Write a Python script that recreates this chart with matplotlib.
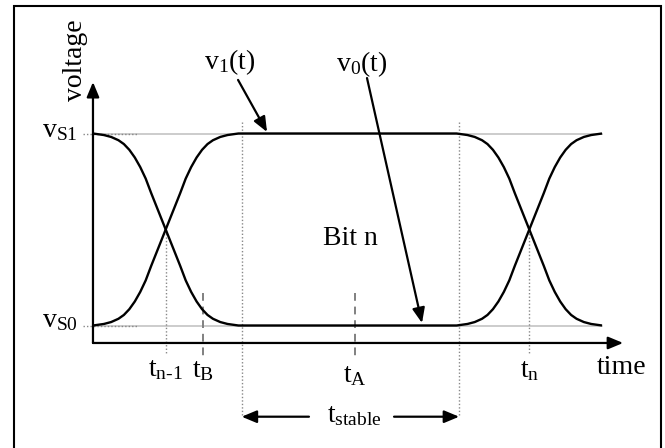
import numpy as np
import matplotlib
matplotlib.use('Agg')
import matplotlib.pyplot as plt

plt.rcParams['font.family'] = 'Liberation Serif'
plt.rcParams['mathtext.fontset'] = 'custom'
plt.rcParams['mathtext.rm'] = 'Liberation Serif'
plt.rcParams['mathtext.it'] = 'Liberation Serif:italic'
plt.rcParams['mathtext.bf'] = 'Liberation Serif:bold'

# one transition (time in bit periods, voltage 0=vS0, 1=vS1)
edge_dt = np.array([-0.20, -0.17, -0.15, -0.13, -0.115, -0.10, -0.085, -0.07, -0.055, -0.04, -0.02,
                    0.0, 0.02, 0.04, 0.055, 0.07, 0.085, 0.10, 0.115, 0.13, 0.15, 0.17, 0.20])
edge_rise = np.array([0.0, 0.008, 0.018, 0.035, 0.055, 0.085, 0.125, 0.175, 0.235, 0.31, 0.405,
                      0.50, 0.595, 0.69, 0.765, 0.825, 0.875, 0.915, 0.945, 0.965, 0.982, 0.992, 1.0])

# bit boundaries and sampling instants
t_prev, t_next = 0.0, 1.0
t_B, t_A = 0.102, 0.521
stable_start, stable_end = 0.209, 0.807
t_start, t_end = -0.2, 1.2
v_S0, v_S1 = 0.0, 1.0

v1_t = np.concatenate([t_prev + edge_dt, t_next + edge_dt])
v1_v = np.concatenate([edge_rise, edge_rise[::-1]])
v0_v = np.concatenate([edge_rise[::-1], edge_rise])

# pixel geometry of the layout
W, H = 665, 448
T0_PX, PX_PER_T = 165.7, 363.6
V0_PX, PX_PER_V = 325.5, 192.0

fig = plt.figure(figsize=(W / 100, H / 100), dpi=100)
ax = fig.add_axes([0, 0, 1, 1])
ax.axis('off')
ax.set_xlim(-T0_PX / PX_PER_T, (W - T0_PX) / PX_PER_T)
ax.set_ylim((V0_PX - H) / PX_PER_V, V0_PX / PX_PER_V)

black = 'black'
lw_main = 1.6
fs = 20
arrow = dict(arrowstyle='-|>,head_length=0.6,head_width=0.25', mutation_scale=15,
             lw=lw_main, color=black, shrinkA=0, shrinkB=0)

# frame around the figure (bottom edge is off the picture)
ax.plot([-0.417, -0.417, 1.362, 1.362], [-0.9, 1.664, 1.664, -0.9], color=black,
        lw=1.5, clip_on=False, solid_joinstyle='miter')

# steady-state levels
for lev in (v_S0, v_S1):
    ax.plot([t_start, t_end], [lev, lev], color='#c4c4c4', lw=1.2, zorder=1)
    ax.plot([-0.227, -0.079], [lev, lev], color='#888888', lw=1.0, ls=(0, (1, 1.5)), zorder=2)

# waveforms
ax.plot(v1_t, v1_v, color=black, lw=1.7, zorder=3, solid_capstyle='butt')
ax.plot(v1_t, v0_v, color=black, lw=1.7, zorder=3, solid_capstyle='butt')

# axes with arrows
y_axis = -0.091
ax.annotate('', xy=(t_start, 1.268), xytext=(t_start, y_axis), arrowprops=arrow)
ax.annotate('', xy=(1.258, y_axis), xytext=(t_start, y_axis), arrowprops=arrow)

# crossing points and stable window markers
dot = dict(color='#888888', lw=1.0, ls=(0, (1, 1.5)), zorder=2)
for tc in (t_prev, t_next):
    ax.plot([tc, tc], [0.497, -0.154], **dot)
for ts in (stable_start, stable_end):
    ax.plot([ts, ts], [1.059, -0.466], **dot)
for ts in (t_B, t_A):
    ax.plot([ts, ts], [0.169, -0.164], color='#808080', lw=1.4, ls=(0, (4, 3)), zorder=2)

# t_stable arrows
ax.annotate('', xy=(stable_start, -0.475), xytext=(0.394, -0.475), arrowprops=arrow)
ax.annotate('', xy=(stable_end, -0.475), xytext=(0.628, -0.475), arrowprops=arrow)
ax.text(0.52, -0.503, r'$\mathrm{t}_{\mathrm{stable}}$', fontsize=fs, ha='center', va='baseline')

# time labels
ax.text(t_prev, -0.263, r'$\mathrm{t}_{\mathrm{n\text{-}1}}$', fontsize=fs, ha='center', va='baseline')
ax.text(t_B, -0.268, r'$\mathrm{t}_{\mathrm{B}}$', fontsize=fs, ha='center', va='baseline')
ax.text(t_A, -0.294, r'$\mathrm{t}_{\mathrm{A}}$', fontsize=fs, ha='center', va='baseline')
ax.text(t_next, -0.268, r'$\mathrm{t}_{\mathrm{n}}$', fontsize=fs, ha='center', va='baseline')
ax.text(1.186, -0.253, 'time', fontsize=fs, ha='left', va='baseline')

# voltage labels
ax.text(-0.2302, 1.383, 'voltage', fontsize=fs, rotation=90, rotation_mode='anchor',
        ha='center', va='baseline')
ax.text(-0.241, 0.982, r'$\mathrm{v}_{\mathrm{S1}}$', fontsize=fs, ha='right', va='baseline')
ax.text(-0.241, -0.008, r'$\mathrm{v}_{\mathrm{S0}}$', fontsize=fs, ha='right', va='baseline')

# curve callouts
ax.text(0.177, 1.336, r'$\mathrm{v}_{1}\mathrm{(t)}$', fontsize=fs, ha='center', va='baseline')
ax.text(0.540, 1.326, r'$\mathrm{v}_{0}\mathrm{(t)}$', fontsize=fs, ha='center', va='baseline')
ax.annotate('', xy=(0.2787, 1.008), xytext=(0.199, 1.279), arrowprops=arrow)
ax.annotate('', xy=(0.7049, 0.013), xytext=(0.5536, 1.289), arrowprops=arrow)

ax.text(0.5069, 0.419, 'Bit n', fontsize=fs, ha='center', va='baseline')

fig.savefig('out.png', dpi=100)
